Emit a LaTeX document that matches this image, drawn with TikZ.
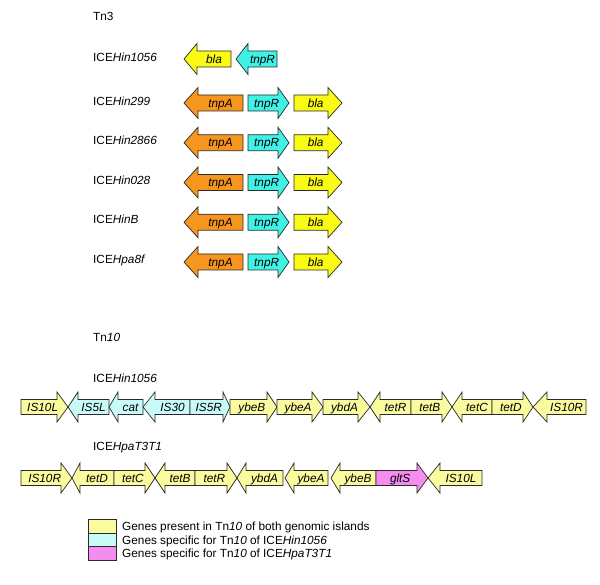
\documentclass[tikz,border=0pt]{standalone}
\usepackage{fontspec}
\setmainfont{Liberation Sans}
\definecolor{ylw}{HTML}{FAFA14}
\definecolor{org}{HTML}{F7961E}
\definecolor{cyn}{HTML}{40F2E6}
\definecolor{pylw}{HTML}{FAFA9E}
\definecolor{pcyn}{HTML}{C8FAF8}
\definecolor{pnk}{HTML}{F58CF0}
\definecolor{edge}{HTML}{2A2A2A}
\tikzset{
  genebox/.style={draw=edge, line width=0.7pt, line join=miter},
  genetext/.style={font=\fontsize{11.8}{13}\selectfont\itshape, anchor=base, inner sep=0pt},
  lbl/.style={font=\fontsize{11.8}{14}\selectfont, anchor=base west, inner sep=0pt},
  legbox/.style={draw=edge, line width=0.6pt}
}
% #1 name, #2 flat end x, #3 head base x, #4 tip x, #5 centre y, #6 fill, #7 label
\newcommand\gene[7]{%
  \draw[genebox, fill=#6] (#2,#5-\bh) -- (#3,#5-\bh) -- (#3,#5-\hh) -- (#4,#5)
     -- (#3,#5+\hh) -- (#3,#5+\bh) -- (#2,#5+\bh) -- cycle;
  \pgfmathsetmacro\gx{ifthenelse(#2<#4,(3*#2+#3+2*#4)/6,(#2+#3)/2)}%
  \node[genetext] (#1) at (\gx,#5+4.1) {#7};%
}
\begin{document}
\begin{tikzpicture}[x=1pt,y=-1pt]
\useasboundingbox[fill=white] (0,0) rectangle (600,585);
% ---------- Tn3 ----------
\node[lbl] (tn3) at (93,21) {Tn3};
\node[lbl] (l1) at (93,61.1) {ICE\textit{Hin1056}};
\node[lbl] (l2) at (93,105.1) {ICE\textit{Hin299}};
\node[lbl] (l3) at (93,144.6) {ICE\textit{Hin2866}};
\node[lbl] (l4) at (93,184.1) {ICE\textit{Hin028}};
\node[lbl] (l5) at (93,223.6) {ICE\textit{HinB}};
\node[lbl] (l6) at (93,263.1) {ICE\textit{Hpa8f}};
\def\bh{8}\def\hh{15.5}
\gene{a1}{231}{197}{184}{59}{ylw}{bla}
\gene{a2}{277}{248}{236}{59}{cyn}{tnpR}
\foreach \yy/\k in {103/2,142.75/3,182.5/4,222.25/5,262/6}{
  \gene{tA\k}{243}{198}{184}{\yy}{org}{tnpA}
  \gene{tR\k}{248}{278}{289}{\yy}{cyn}{tnpR}
  \gene{bl\k}{294}{328}{342}{\yy}{ylw}{bla}
}
% ---------- Tn10 ----------
\node[lbl] (tn10) at (93,342) {Tn\textit{10}};
\node[lbl] (m1) at (93,382) {ICE\textit{Hin1056}};
\node[lbl] (m2) at (93,450) {ICE\textit{HpaT3T1}};
\def\bh{7.5}\def\hh{15}
\gene{r1}{21}{57}{68}{407}{pylw}{IS10L}
\gene{r2}{109}{78}{68}{407}{pcyn}{IS5L}
\gene{r3}{143}{118}{109}{407}{pcyn}{cat}
\gene{r4}{190}{155}{143}{407}{pcyn}{IS30}
\gene{r5}{190}{223}{230}{407}{pcyn}{IS5R}
\gene{r6}{230}{267}{277}{407}{pylw}{ybeB}
\gene{r7}{277}{312}{323}{407}{pylw}{ybeA}
\gene{r8}{323}{358}{370}{407}{pylw}{ybdA}
\gene{r9}{411}{380}{370}{407}{pylw}{tetR}
\gene{r10}{411}{442}{452}{407}{pylw}{tetB}
\gene{r11}{492}{462}{452}{407}{pylw}{tetC}
\gene{r12}{492}{523}{533}{407}{pylw}{tetD}
\gene{r13}{586}{547}{533}{407}{pylw}{IS10R}
%
\gene{s1}{21}{61}{72}{478}{pylw}{IS10R}
\gene{s2}{114}{80}{72}{478}{pylw}{tetD}
\gene{s3}{114}{145}{155}{478}{pylw}{tetC}
\gene{s4}{195}{165}{155}{478}{pylw}{tetB}
\gene{s5}{195}{227}{237}{478}{pylw}{tetR}
\gene{s6}{283}{246}{237}{478}{pylw}{ybdA}
\gene{s7}{328}{294}{285}{478}{pylw}{ybeA}
\gene{s8}{376}{340}{331}{478}{pylw}{ybeB}
\gene{s9}{376}{417}{428}{478}{pnk}{gltS}
\gene{s10}{482}{440}{428}{478}{pylw}{IS10L}
% ---------- legend ----------
\draw[legbox, fill=pylw] (88,519) rectangle (116,533);
\draw[legbox, fill=pcyn] (88,533) rectangle (116,546.5);
\draw[legbox, fill=pnk] (88,546.5) rectangle (116,560);
\node[lbl] (g1) at (122,530.5) {Genes present in Tn\textit{10} of both genomic islands};
\node[lbl] (g2) at (122,544) {Genes specific for Tn\textit{10} of ICE\textit{Hin1056}};
\node[lbl] (g3) at (122,557.5) {Genes specific for Tn\textit{10} of ICE\textit{HpaT3T1}};
\end{tikzpicture}
\end{document}
